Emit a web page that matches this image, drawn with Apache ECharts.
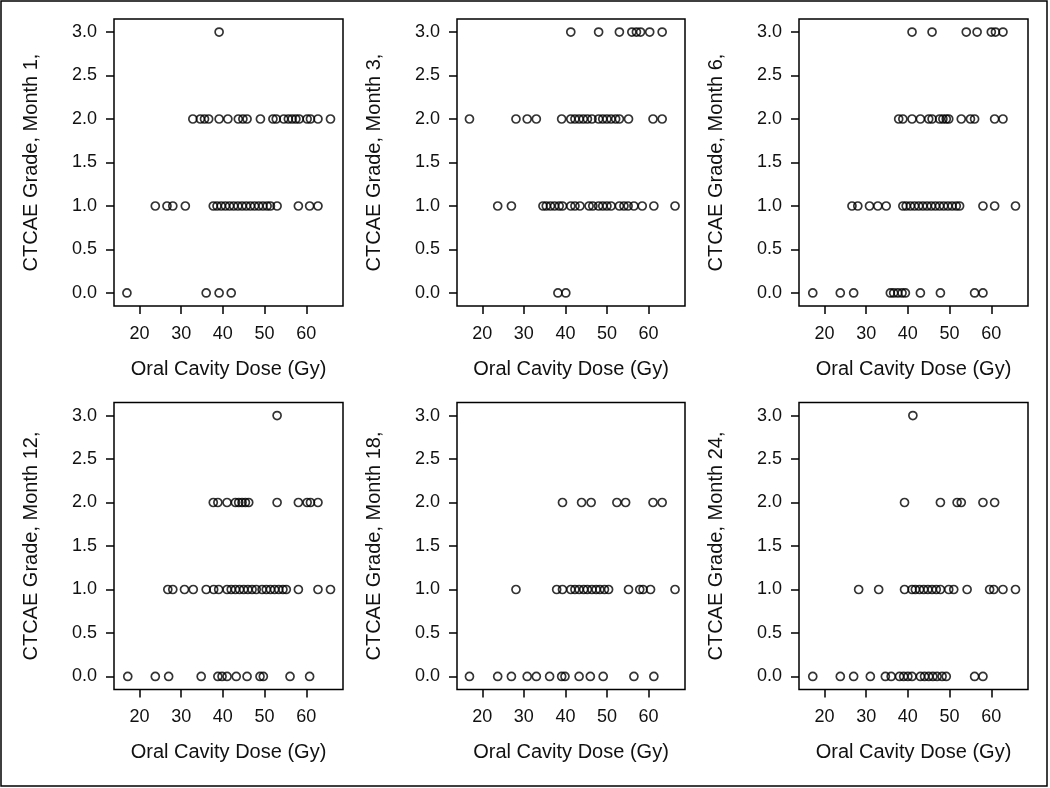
<!DOCTYPE html>
<html>
<head>
<meta charset="utf-8">
<script src="https://cdn.jsdelivr.net/npm/echarts@6/dist/echarts.min.js"></script>
<style>html,body{margin:0;padding:0;background:#fff}#c{width:1050px;height:788px}</style>
</head>
<body>
<div id="c"></div>
<script>
// Dose values (Gy) for each CTCAE grade 0..3, per month
const month1 = [
  [17.0, 36.0, 39.1, 42.0],
  [23.8, 26.6, 28.0, 31.0, 37.7, 38.6, 39.6, 40.6, 41.6, 42.6, 43.6, 44.6, 45.6, 46.6, 47.6, 48.6, 49.6, 50.6, 51.4, 53.0, 58.1, 60.8, 62.8],
  [32.8, 34.6, 35.6, 36.6, 39.1, 41.2, 43.7, 44.8, 45.8, 49.0, 52.0, 52.8, 54.6, 55.7, 56.6, 57.5, 58.3, 60.2, 61.0, 62.8, 65.8],
  [39.1]
];
const month3 = [
  [38.2, 40.1],
  [23.7, 27.0, 34.6, 35.4, 36.4, 37.4, 38.5, 39.3, 41.3, 42.3, 43.5, 45.7, 46.6, 48.0, 49.0, 50.0, 51.0, 53.0, 54.1, 55.1, 56.5, 58.5, 61.3, 66.4],
  [16.9, 28.1, 30.8, 33.0, 39.1, 41.3, 42.3, 43.3, 44.3, 45.3, 46.4, 48.0, 49.0, 50.0, 51.0, 52.1, 53.0, 55.2, 61.1, 63.3],
  [41.3, 48.0, 53.0, 56.0, 57.1, 58.1, 60.3, 63.3]
];
const month6 = [
  [17.2, 23.8, 27.0, 35.8, 36.6, 37.6, 38.6, 39.4, 43.0, 47.8, 56.0, 58.0],
  [26.6, 28.0, 30.8, 32.8, 34.8, 38.8, 39.6, 40.6, 41.6, 42.6, 43.6, 44.6, 45.6, 46.6, 47.6, 48.6, 49.6, 50.6, 51.6, 52.4, 58.0, 60.8, 65.8],
  [37.8, 38.8, 41.0, 43.0, 45.0, 45.8, 47.6, 48.4, 49.2, 49.8, 52.8, 55.0, 56.0, 60.8, 62.8],
  [41.0, 45.8, 54.0, 56.6, 60.0, 61.0, 62.8]
];
const month12 = [
  [17.2, 23.8, 27.0, 34.8, 38.8, 39.8, 41.0, 43.2, 45.8, 48.9, 49.7, 56.1, 60.8],
  [26.8, 28.0, 30.8, 32.9, 36.0, 37.8, 39.0, 41.0, 42.0, 43.0, 44.0, 45.0, 46.0, 47.0, 48.0, 49.4, 50.4, 51.4, 52.4, 53.4, 54.4, 55.2, 58.1, 62.8, 65.8],
  [37.7, 38.8, 41.0, 43.0, 43.8, 44.6, 45.4, 46.2, 53.0, 58.1, 60.2, 61.0, 62.8],
  [53.0]
];
const month18 = [
  [16.9, 23.7, 27.0, 30.8, 33.0, 36.2, 39.1, 39.9, 43.3, 46.0, 49.1, 56.5, 61.3],
  [28.1, 37.9, 39.3, 41.3, 42.3, 43.3, 44.4, 45.3, 46.4, 47.4, 48.3, 49.4, 50.4, 55.2, 57.9, 58.7, 60.5, 66.4],
  [39.3, 43.9, 46.2, 52.4, 54.5, 61.1, 63.3],
  []
];
const month24 = [
  [17.2, 23.8, 27.0, 31.0, 34.6, 36.0, 38.0, 39.0, 40.0, 41.0, 43.0, 44.0, 45.0, 46.0, 47.0, 48.2, 49.2, 56.0, 58.0],
  [28.2, 33.0, 39.2, 41.0, 41.8, 42.8, 43.8, 44.8, 45.8, 46.8, 47.8, 49.8, 51.0, 54.2, 59.6, 60.6, 62.8, 65.8],
  [39.2, 47.8, 51.8, 52.8, 58.0, 60.8],
  [41.2]
];
const monthLabels = ["1", "3", "6", "12", "18", "24"];
const xTicks = [20, 30, 40, 50, 60];
const yTicks = [0, 0.5, 1.0, 1.5, 2.0, 2.5, 3.0];
const xTitle = "Oral Cavity Dose (Gy)";

const panels = [month1, month3, month6, month12, month18, month24];
const colLeft = [114, 457, 799];
const colWidth = [229, 228, 229];
const rowTop = [19, 402.5];
const rowHeight = 287;
const FONT = "'Liberation Sans', Arial, sans-serif";

const grids = [], xAxes = [], yAxes = [], series = [];
panels.forEach((p, i) => {
  const c = i % 3, r = Math.floor(i / 3);
  grids.push({left: colLeft[c], top: rowTop[r], width: colWidth[c], height: rowHeight,
    show: true, borderColor: '#000', borderWidth: 1.5, backgroundColor: 'transparent', containLabel: false});
  xAxes.push({type: 'value', gridIndex: i, min: 13.9, max: 68.8,
    name: xTitle, nameLocation: 'middle', nameGap: 53,
    nameTextStyle: {fontFamily: FONT, fontSize: 20, color: '#111'},
    axisLine: {show: false, onZero: false},
    axisTick: {show: true, inside: false, length: 8, lineStyle: {color: '#000', width: 1.5}, customValues: xTicks},
    axisLabel: {show: true, margin: 19, fontFamily: FONT, fontSize: 18, color: '#111', customValues: xTicks,
      formatter: v => String(v)},
    splitLine: {show: false}});
  yAxes.push({type: 'value', gridIndex: i, min: -0.15, max: 3.15,
    name: 'CTCAE Grade, Month ' + monthLabels[i] + ',', nameLocation: 'middle', nameGap: 73,
    nameTextStyle: {fontFamily: FONT, fontSize: 20, color: '#111'},
    axisLine: {show: false, onZero: false},
    axisTick: {show: true, inside: false, length: 8, lineStyle: {color: '#000', width: 1.5}, customValues: yTicks},
    axisLabel: {show: true, margin: 17, fontFamily: FONT, fontSize: 18, color: '#111', customValues: yTicks,
      formatter: v => Number(v).toFixed(1)},
    splitLine: {show: false}});
  const data = [];
  p.forEach((doses, g) => doses.forEach(d => data.push([d, g])));
  series.push({type: 'scatter', xAxisIndex: i, yAxisIndex: i, data: data,
    symbol: 'circle', symbolSize: 8, silent: true,
    itemStyle: {color: 'rgba(0,0,0,0)', borderColor: '#000', borderWidth: 1.7},
    emphasis: {disabled: true}});
});

const chart = echarts.init(document.getElementById('c'), null, {renderer: 'canvas'});
chart.setOption({
  animation: false,
  backgroundColor: '#fff',
  grid: grids, xAxis: xAxes, yAxis: yAxes, series: series,
  graphic: [{type: 'rect', shape: {x: 1, y: 1, width: 1046, height: 785},
    style: {fill: 'none', stroke: '#000', lineWidth: 1.5}, silent: true}]
});
</script>
</body>
</html>
